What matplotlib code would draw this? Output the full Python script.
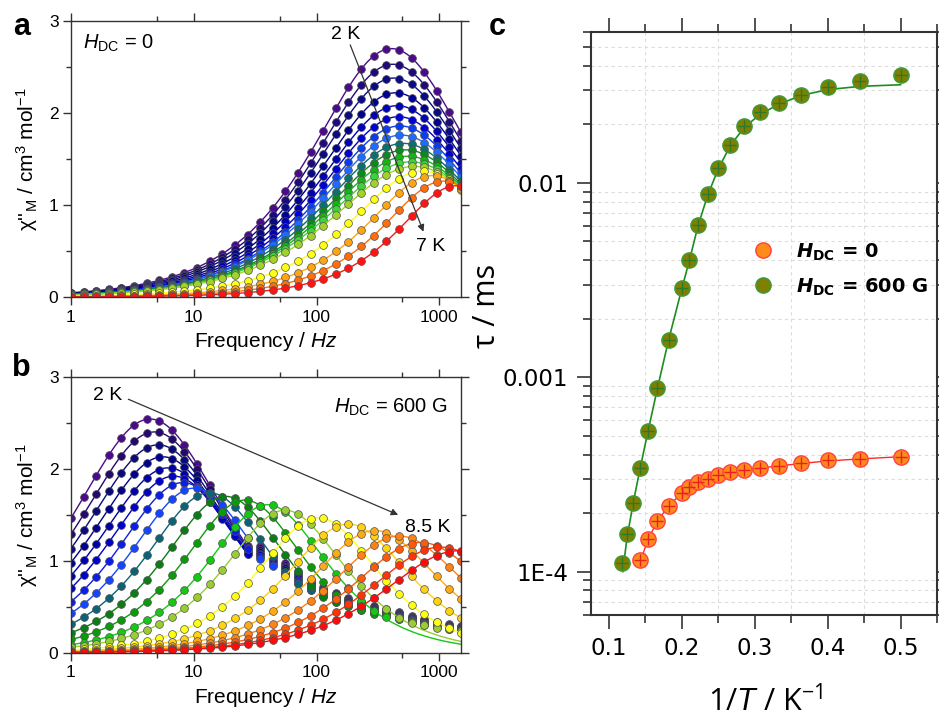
import numpy as np
import matplotlib
matplotlib.use("Agg")
import matplotlib.pyplot as plt
from matplotlib.ticker import FixedLocator, NullFormatter, FuncFormatter, MultipleLocator, LogLocator
from matplotlib.lines import Line2D

plt.rcParams.update({
    'font.family': ['Liberation Sans', 'DejaVu Sans'],
    'mathtext.fontset': 'custom',
    'mathtext.rm': 'Liberation Sans',
    'mathtext.it': 'Liberation Sans:italic',
    'mathtext.bf': 'DejaVu Sans:bold',
    'mathtext.bfit': 'DejaVu Sans:italic:bold',
})

# ---------------- data ----------------
# measurement frequencies (Hz)
freq = [1.0, 1.27, 1.60, 2.03, 2.57, 3.26, 4.13, 5.23, 6.63, 8.40, 10.6, 13.5, 17.1,
        21.6, 27.4, 34.7, 44.0, 55.7, 70.6, 89.4, 113, 144, 182, 231, 292, 370, 469,
        595, 753, 955, 1210, 1500]

# panel c : relaxation times
T_zero = [7, 6.5, 6, 5.5, 5, 4.75, 4.5, 4.25, 4, 3.75, 3.5, 3.25, 3, 2.75, 2.5, 2.25, 2]
tau_zero = [1.153e-4, 1.466e-4, 1.816e-4, 2.18e-4, 2.55e-4, 2.73e-4, 2.88e-4, 3.0e-4,
            3.13e-4, 3.24e-4, 3.33e-4, 3.42e-4, 3.51e-4, 3.61e-4, 3.73e-4, 3.81e-4, 3.90e-4]
T_600 = [8.5, 8, 7.5, 7, 6.5, 6, 5.5, 5, 4.75, 4.5, 4.25, 4, 3.75, 3.5, 3.25, 3, 2.75,
         2.5, 2.25, 2]
tau_600 = [1.11e-4, 1.556e-4, 2.26e-4, 3.40e-4, 5.32e-4, 8.80e-4, 1.55e-3, 2.88e-3,
           3.99e-3, 6.11e-3, 8.72e-3, 0.0119, 0.01574, 0.0196, 0.0231, 0.0257, 0.0284,
           0.0310, 0.0333, 0.0361]
# fit lines of panel c
fit600_invT = [0.119, 0.125, 0.1333, 0.1429, 0.1538, 0.1667, 0.1818, 0.2, 0.2105, 0.2222,
               0.2353, 0.25, 0.2667, 0.2857, 0.3077, 0.3333, 0.3636, 0.4, 0.4444, 0.5]
fit600_tau = [1.0e-4, 1.5e-4, 2.25e-4, 3.4e-4, 5.3e-4, 8.8e-4, 1.55e-3, 2.85e-3, 4.0e-3,
              6.0e-3, 8.6e-3, 0.0118, 0.0156, 0.0193, 0.0226, 0.0254, 0.0282, 0.0302,
              0.0314, 0.0320]
fit0_invT = [0.1429, 0.1538, 0.1667, 0.1818, 0.2, 0.2105, 0.2222, 0.2353, 0.25, 0.2667,
             0.2857, 0.3077, 0.3333, 0.3636, 0.4, 0.4444, 0.5]
fit0_tau = [1.12e-4, 1.47e-4, 1.82e-4, 2.18e-4, 2.53e-4, 2.72e-4, 2.87e-4, 2.99e-4,
            3.11e-4, 3.22e-4, 3.32e-4, 3.41e-4, 3.50e-4, 3.60e-4, 3.71e-4, 3.80e-4, 3.90e-4]

# panel a : chi'' peak heights and distribution widths (H_DC = 0), 2 K -> 7 K
T_a = [2, 2.25, 2.5, 2.75, 3, 3.25, 3.5, 3.75, 4, 4.25, 4.5, 4.75, 5, 5.5, 6, 6.5, 7]
height_a = [2.70, 2.53, 2.38, 2.22, 2.08, 1.96, 1.86, 1.76, 1.67, 1.60, 1.53, 1.47,
            1.42, 1.37, 1.32, 1.26, 1.21]
alpha_a = [0.17, 0.17, 0.17, 0.17, 0.17, 0.17, 0.17, 0.18, 0.18, 0.18, 0.19, 0.20,
           0.20, 0.12, 0.06, 0.03, 0.0]
colors_a = ['#4b0a8c', '#1e0a7a', '#0a0a82', '#00008f', '#0000b4', '#0000d6', '#0a3cf0',
            '#1e6cff', '#0a7070', '#0a8a1e', '#14b414', '#3cd23c', '#a0d228', '#ffff14',
            '#ffa514', '#ff6e0a', '#ff1414']

# panel b : H_DC = 600 G, 2 K -> 8.5 K
T_b = [2, 2.25, 2.5, 2.75, 3, 3.25, 3.5, 3.75, 4, 4.25, 4.5, 4.75, 5, 5.5, 6, 6.5, 7,
       7.5, 8, 8.5]
height_b = [2.54, 2.40, 2.26, 2.13, 2.01, 1.92, 1.85, 1.79, 1.74, 1.70, 1.66, 1.61,
            1.55, 1.47, 1.40, 1.33, 1.27, 1.20, 1.15, 1.11]
alpha_b = [0.15, 0.14, 0.13, 0.12, 0.11, 0.09, 0.07, 0.06, 0.05, 0.04, 0.03, 0.02,
           0.02, 0.02, 0.04, 0.06, 0.08, 0.10, 0.12, 0.15]
colors_b = ['#4b0a8c', '#24086e', '#0a0a7a', '#00008c', '#0000a8', '#0000c8', '#0a1ee6',
            '#1446ff', '#0a6478', '#0a7d14', '#0a9a0a', '#14c814', '#9acd32', '#ffff14',
            '#ffd214', '#ffaa14', '#ff8214', '#ff5a0a', '#ff320a', '#ff0a0a']
# upper frequency (Hz) up to which each fit curve is drawn
fit_end_b = [27.4] * 8 + [44.0, 70.6, 113] + [1500] * 9
# 2-5 K points above the fit range follow a high-frequency tail
n_tail_b = 13
tail_freq = [34.7, 44.0, 55.7, 70.6, 89.4, 113, 144, 182, 231, 292, 370, 469, 595, 753,
             955, 1210, 1500]
tail_level = [1.08, 1.00, 0.90, 0.81, 0.73, 0.66, 0.60, 0.55, 0.51, 0.47, 0.44, 0.41,
              0.37, 0.34, 0.31, 0.29, 0.27]
tail_scale = [1.08, 1.06, 1.04, 1.02, 1.00, 0.98, 0.96, 0.94, 0.93, 0.92, 0.91, 0.90, 0.89]


def debye_chi2(f, tau, height, alpha):
    f = np.asarray(f, dtype=float)
    z = (1j * 2 * np.pi * f * tau) ** (1 - alpha)
    zp = (1j * 1.0) ** (1 - alpha)
    peak = -(1.0 / (1 + zp)).imag
    return -(height / peak / (1 + z)).imag


tau_a = tau_zero[::-1]
tau_b = tau_600[::-1]
fgrid = np.logspace(0, np.log10(1500), 400)

fig = plt.figure(figsize=(9.39, 7.22), dpi=100)
axA = fig.add_axes([0.0756, 0.5886, 0.4153, 0.3823])
axB = fig.add_axes([0.0756, 0.0956, 0.4153, 0.3827])
axC = fig.add_axes([0.629, 0.1486, 0.3689, 0.8075])

mk = dict(marker='o', ls='none', ms=5.6, mec='#505050', mew=0.5)

# panel a
for i, T in enumerate(T_a):
    c = colors_a[i]
    axA.plot(fgrid, debye_chi2(fgrid, tau_a[i], height_a[i], alpha_a[i]), color=c, lw=1.0)
    axA.plot(freq, debye_chi2(freq, tau_a[i], height_a[i], alpha_a[i]), mfc=c, **mk)

# panel b
tf = np.array(tail_freq)
tl = np.array(tail_level)
for i, T in enumerate(T_b):
    c = colors_b[i]
    p = (tau_b[i], height_b[i], alpha_b[i])
    fl = fgrid[fgrid <= fit_end_b[i] * 1.001]
    axB.plot(fl, debye_chi2(fl, *p), color=c, lw=1.0)
    if i < 8:
        fd = [f for f in freq if f <= 27.4]
        axB.plot(fd, debye_chi2(fd, *p), mfc=c, **mk)
        axB.plot(tf, tl * tail_scale[i], mfc=c, **mk)
    elif i < n_tail_b:
        fd = [f for f in freq if f < 34]
        axB.plot(fd, debye_chi2(fd, *p), mfc=c, **mk)
        axB.plot(tf, np.maximum(debye_chi2(tf, *p), tl * tail_scale[i]), mfc=c, **mk)
    else:
        axB.plot(freq, debye_chi2(freq, *p), mfc=c, **mk)

for ax in (axA, axB):
    ax.set_xscale('log')
    ax.set_xlim(1, 1500)
    ax.set_ylim(0, 3)
    ax.xaxis.set_major_locator(FixedLocator([1, 10, 100, 1000]))
    ax.xaxis.set_minor_locator(FixedLocator([5, 50, 500]))
    ax.xaxis.set_major_formatter(FuncFormatter(lambda v, p: '%g' % v))
    ax.xaxis.set_minor_formatter(NullFormatter())
    ax.yaxis.set_major_locator(MultipleLocator(1))
    ax.yaxis.set_minor_locator(MultipleLocator(0.5))
    ax.tick_params(which='both', direction='out', top=True, right=True, labelsize=12.5,
                   width=1.0, color='#333333', pad=3)
    ax.tick_params(which='major', length=6)
    ax.tick_params(which='minor', length=3.5)
    for s in ax.spines.values():
        s.set_linewidth(1.0)
        s.set_color('#333333')
    ax.set_xlabel('Frequency / $\\mathit{Hz}$', fontsize=15, labelpad=4)
    ax.set_ylabel("χ''$_\\mathregular{M}$ / cm$^\\mathregular{3}$ mol$^\\mathregular{-1}$",
                  fontsize=15, labelpad=6)

axA.text(0.03, 0.92, '$\\mathit{H}_\\mathregular{DC}$ = 0', transform=axA.transAxes,
         fontsize=14.5, ha='left', va='center')
axA.annotate('', xy=(743, 0.71), xytext=(188, 2.74),
             arrowprops=dict(arrowstyle='-|>', color='#333333', lw=0.9,
                             mutation_scale=10, shrinkA=0, shrinkB=0))
axA.text(171, 2.85, '2 K', fontsize=14, ha='center', va='center')
axA.text(843, 0.55, '7 K', fontsize=14, ha='center', va='center')

axB.text(0.965, 0.89, '$\\mathit{H}_\\mathregular{DC}$ = 600 G', transform=axB.transAxes,
         fontsize=14.5, ha='right', va='center')
axB.annotate('', xy=(462, 1.50), xytext=(2.93, 2.755),
             arrowprops=dict(arrowstyle='-|>', color='#333333', lw=0.9,
                             mutation_scale=10, shrinkA=0, shrinkB=0))
axB.text(2.0, 2.8, '2 K', fontsize=14, ha='center', va='center')
axB.text(800, 1.36, '8.5 K', fontsize=14, ha='center', va='center')

fig.text(0.023, 0.962, 'a', fontsize=22, fontweight='bold', ha='center', va='center',
         family='Liberation Sans')
fig.text(0.023, 0.490, 'b', fontsize=22, fontweight='bold', ha='center', va='center',
         family='Liberation Sans')
fig.text(0.530, 0.962, 'c', fontsize=22, fontweight='bold', ha='center', va='center',
         family='Liberation Sans')

# panel c
invT0 = [1.0 / t for t in T_zero]
invT6 = [1.0 / t for t in T_600]
axC.plot(fit600_invT, fit600_tau, color='#1e8c1e', lw=1.2, zorder=2)
axC.plot(fit0_invT, fit0_tau, color='#ff2a2a', lw=1.0, zorder=2)
axC.plot(invT6, tau_600, marker='o', ls='none', ms=11, mfc='#7f7f00', mec='#3c9a3c',
         mew=1.0, zorder=3)
axC.plot(invT6, tau_600, marker='+', ls='none', ms=9, mec='#2a7a2a', mew=1.0, zorder=4)
axC.plot(invT0, tau_zero, marker='o', ls='none', ms=11, mfc='#ff8c1a', mec='#ff4040',
         mew=1.0, zorder=3)
axC.plot(invT0, tau_zero, marker='+', ls='none', ms=9, mec='#e82020', mew=1.0, zorder=4)

axC.set_yscale('log')
axC.set_xlim(0.075, 0.55)
axC.set_ylim(6e-5, 0.06)
axC.xaxis.set_major_locator(MultipleLocator(0.1))
axC.xaxis.set_minor_locator(MultipleLocator(0.05))
axC.xaxis.set_major_formatter(FuncFormatter(lambda v, p: '%g' % v))
axC.yaxis.set_major_locator(FixedLocator([1e-4, 1e-3, 1e-2]))
axC.yaxis.set_minor_locator(LogLocator(base=10, subs=np.arange(2, 10)))
axC.yaxis.set_minor_formatter(NullFormatter())
ylab = {1e-4: '1E-4', 1e-3: '0.001', 1e-2: '0.01'}
axC.yaxis.set_major_formatter(FuncFormatter(lambda v, p: ylab.get(round(v, 6), '')))
axC.grid(which='minor', ls=(0, (3, 3)), color='#dcdcdc', lw=0.8)
axC.tick_params(which='both', direction='out', top=True, right=True, labelsize=16.5,
                labelfontfamily='DejaVu Sans', color='#333333', width=1.2, pad=6)
axC.tick_params(which='major', length=10)
axC.tick_params(which='minor', length=6)
for s in axC.spines.values():
    s.set_linewidth(1.5)
    s.set_color('#333333')
axC.set_ylabel('τ / ms', fontsize=22, family='Open Sans')
axC.yaxis.set_label_coords(-0.255, 0.53)
axC.set_xlabel('1/$\\mathit{T}$ / K$^\\mathregular{-1}$', fontsize=22, family='Open Sans')
axC.xaxis.set_label_coords(0.505, -0.122)

h1 = Line2D([], [], marker='o', ls='none', ms=11, mfc='#ff8c1a', mec='#ff4040', mew=1.0)
h2 = Line2D([], [], marker='o', ls='none', ms=11, mfc='#7f7f00', mec='#3c9a3c', mew=1.0)
axC.legend([h1, h2], ['$\\mathbfit{H}_\\mathbf{DC}$ = 0', '$\\mathbfit{H}_\\mathbf{DC}$ = 600 G'],
           loc='center left', bbox_to_anchor=(0.42, 0.593), frameon=False,
           prop=dict(family='DejaVu Sans', weight='bold', size=14), handlelength=1.0,
           handletextpad=1.2, labelspacing=0.75)

fig.savefig('out.png', dpi=100)
